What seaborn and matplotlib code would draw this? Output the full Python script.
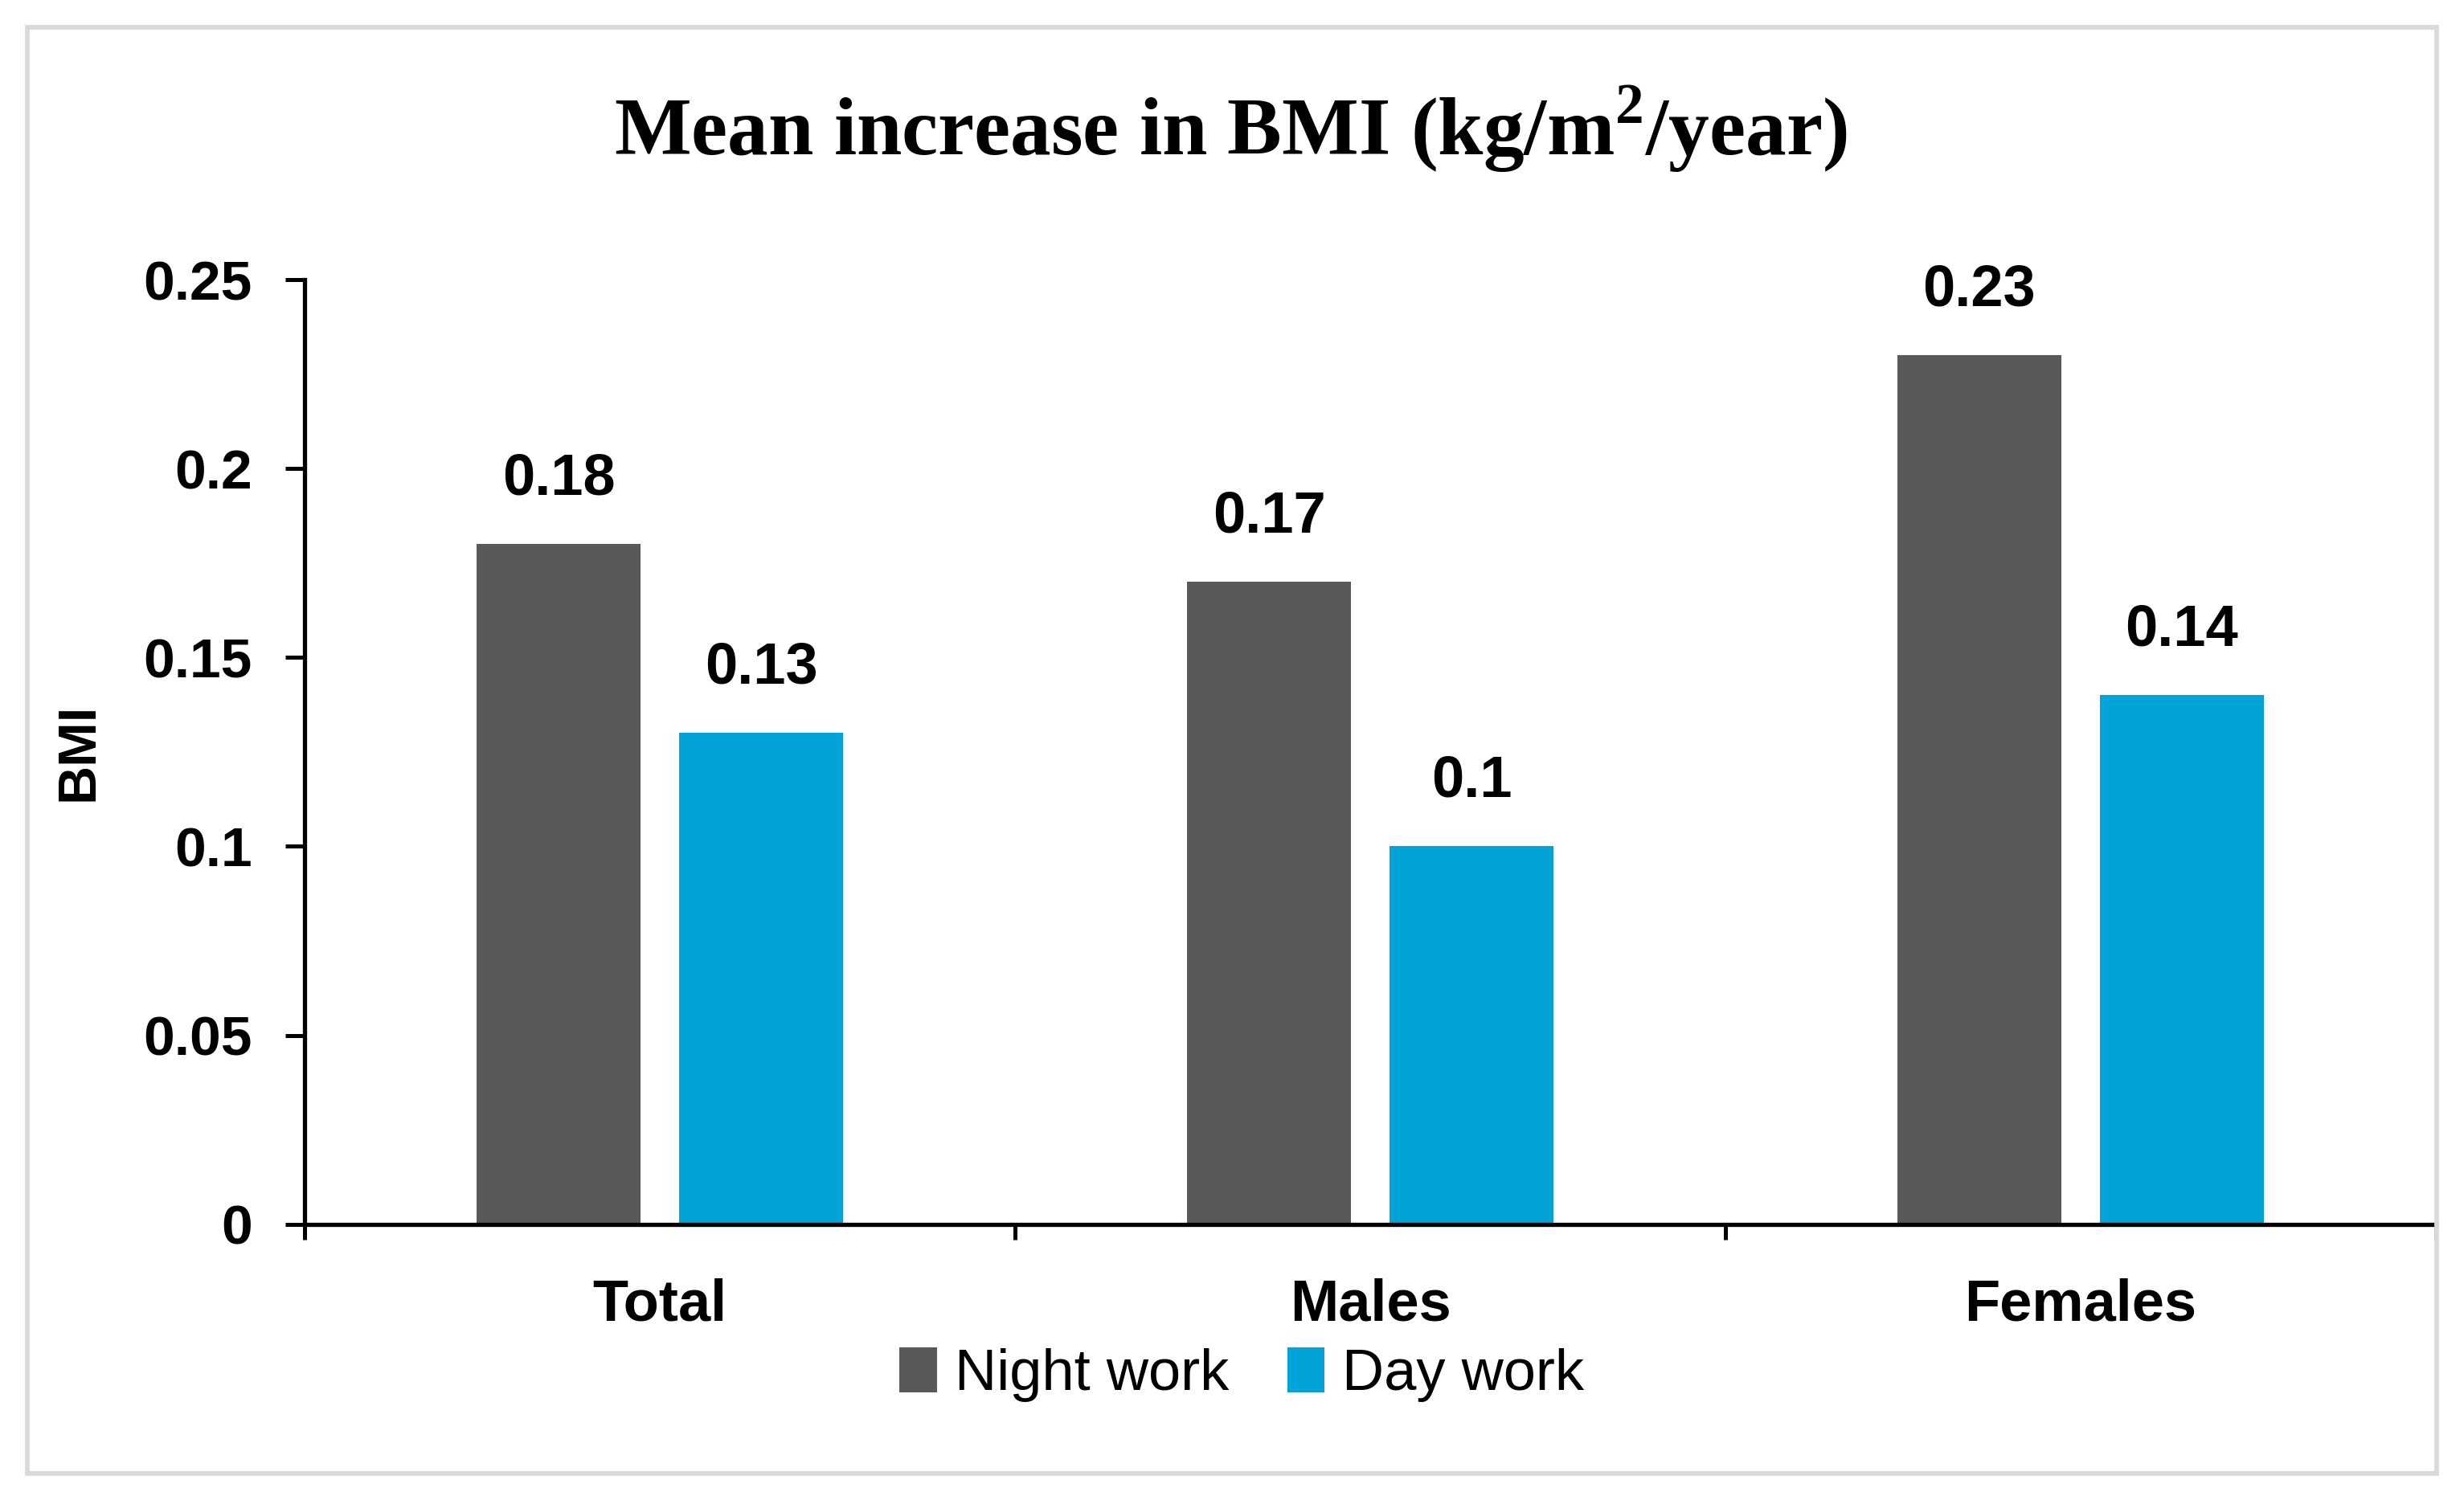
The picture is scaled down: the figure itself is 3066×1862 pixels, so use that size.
import numpy as np
import pandas as pd
import seaborn as sns
import matplotlib.pyplot as plt
from matplotlib.patches import Rectangle
from matplotlib.ticker import FixedLocator, FuncFormatter

# Datos
categories = ["Total", "Males", "Females"]
groups = ["Night work", "Day work"]
night_values = [0.18, 0.17, 0.23]
day_values = [0.13, 0.10, 0.14]
yticks = [0, 0.05, 0.1, 0.15, 0.2, 0.25]

data = pd.DataFrame({
    "Group": np.repeat(categories, 2),
    "Shift": groups * len(categories),
    "BMI": [v for pair in zip(night_values, day_values) for v in pair],
})

sns.set_theme(style="white")
plt.rcParams['font.family'] = ['Liberation Sans', 'DejaVu Sans']
plt.rcParams['text.color'] = 'black'
plt.rcParams['axes.labelcolor'] = 'black'
plt.rcParams['xtick.color'] = 'black'
plt.rcParams['ytick.color'] = 'black'
# Superindice del titulo en Times (Liberation Serif)
plt.rcParams['mathtext.fontset'] = 'custom'
plt.rcParams['mathtext.rm'] = 'Liberation Serif'
plt.rcParams['mathtext.bf'] = 'Liberation Serif:bold'

fig = plt.figure(figsize=(15.33, 9.31), dpi=200)
ax = fig.add_axes([0.1237, 0.1817, 0.8648, 0.6313])

palette = {"Night work": "#595959", "Day work": "#02A3D9"}
sns.barplot(data=data, x="Group", y="BMI", hue="Shift", hue_order=groups,
            order=categories, palette=palette, width=0.57, gap=0.19,
            saturation=1, errorbar=None, linewidth=0, ax=ax)

# Etiquetas de valores
for cont in ax.containers:
    ax.bar_label(cont, labels=[f"{b.get_height():g}" for b in cont],
                 padding=17, fontsize=26, fontweight='bold', color='black')

ax.set_xlim(-0.5, 2.5)
ax.set_ylim(0, 0.25)
ax.set_yticks(yticks)
ax.yaxis.set_major_formatter(FuncFormatter(lambda v, p: f"{v:g}"))
ax.xaxis.set_minor_locator(FixedLocator([-0.5, 0.5, 1.5, 2.5]))

ax.tick_params(axis='y', which='major', left=True, length=8.5, width=1.8,
               pad=15, labelsize=25, color='black', labelcolor='black')
ax.tick_params(axis='x', which='major', length=0, pad=24, labelsize=26,
               labelcolor='black')
ax.tick_params(axis='x', which='minor', bottom=True, length=7, width=1.8,
               color='black')
for lab in ax.get_xticklabels() + ax.get_yticklabels():
    lab.set_fontweight('bold')

for s in ['top', 'right']:
    ax.spines[s].set_visible(False)
for s in ['left', 'bottom']:
    ax.spines[s].set_linewidth(1.9)
    ax.spines[s].set_color('black')

ax.set_xlabel("")
ax.set_ylabel("")
fig.text(0.032, 0.4975, "BMI", rotation=90, ha='center', va='center',
         fontsize=24, fontweight='bold', color='black')

fig.text(0.4995, 0.914, r"Mean increase in BMI (kg/m$^{\mathbf{2}}$/year)",
         ha='center', va='center', fontsize=36.5, fontweight='bold',
         color='black', family=['Liberation Serif', 'DejaVu Serif'])

# Leyenda
handles, labels = ax.get_legend_handles_labels()
ax.get_legend().remove()
fig.legend(handles, labels, loc='center', bbox_to_anchor=(0.504, 0.081),
           ncol=2, frameon=False, fontsize=26, handlelength=0.65,
           handleheight=0.8, handletextpad=0.3, columnspacing=1.0,
           labelcolor='black')

# Borde exterior
fig.patches.append(Rectangle((0.011, 0.015), 0.978, 0.967, transform=fig.transFigure,
                             fill=False, edgecolor='#D9D9D9', linewidth=2.1))

fig.savefig("out.png", dpi=200)
